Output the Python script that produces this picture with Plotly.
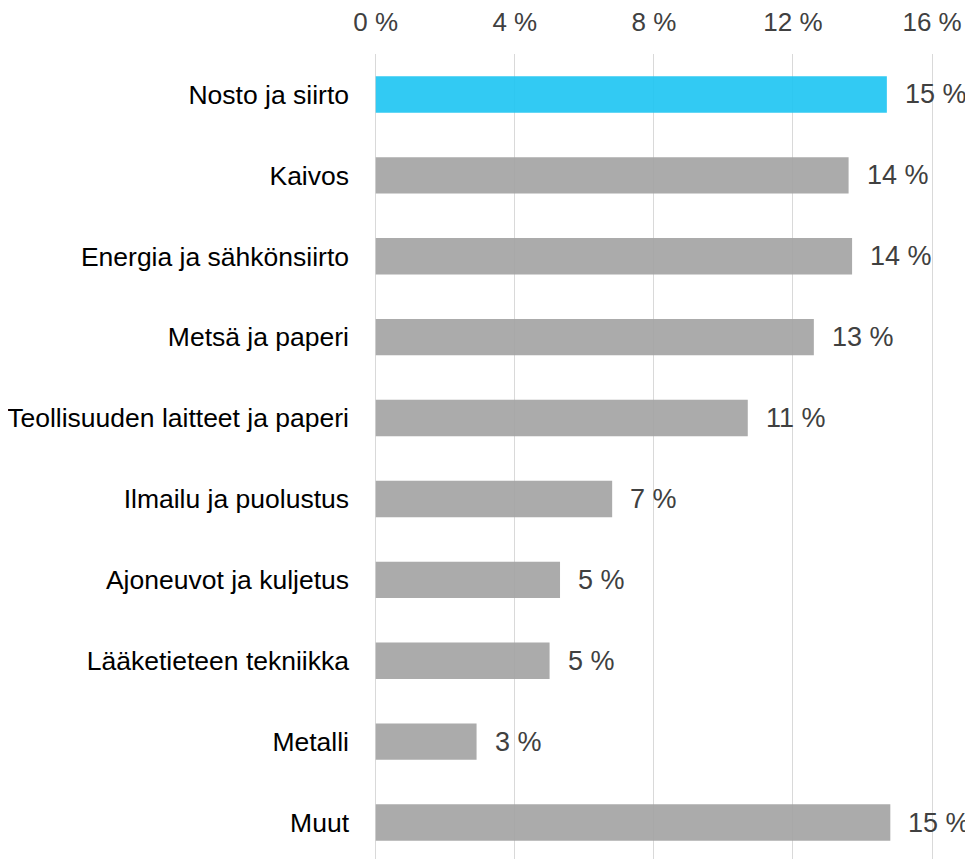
import plotly.graph_objects as go

categories = [
    "Nosto ja siirto",
    "Kaivos",
    "Energia ja sähkönsiirto",
    "Metsä ja paperi",
    "Teollisuuden laitteet ja paperi",
    "Ilmailu ja puolustus",
    "Ajoneuvot ja kuljetus",
    "Lääketieteen tekniikka",
    "Metalli",
    "Muut",
]
values = [14.7, 13.6, 13.7, 12.6, 10.7, 6.8, 5.3, 5.0, 2.9, 14.8]
value_labels = ["15 %", "14 %", "14 %", "13 %", "11 %", "7 %", "5 %", "5 %", "3 %", "15 %"]
tick_vals = [0, 4, 8, 12, 16]
tick_text = ["0 %", "4 %", "8 %", "12 %", "16 %"]

# a touch of transparency so the grid shows faintly through the bars
colors = ["#21C6F2"] + ["#A4A4A4"] * (len(categories) - 1)
font_family = "Liberation Sans, Arial, sans-serif"

fig = go.Figure()
fig.add_trace(go.Bar(
    x=values,
    y=categories,
    orientation="h",
    width=0.45,
    marker=dict(color=colors, line=dict(width=0)),
    opacity=0.92,
    hoverinfo="skip",
))

for cat, val, lab in zip(categories, values, value_labels):
    fig.add_annotation(
        x=val, y=cat, text=lab, showarrow=False,
        xanchor="left", xshift=16,
        font=dict(family=font_family, size=27, color="#404040"),
    )

fig.update_xaxes(
    side="top",
    range=[-0.05, 16.2],
    tickvals=tick_vals,
    ticktext=tick_text,
    showgrid=True,
    gridcolor="#D9D9D9",
    gridwidth=1,
    zeroline=True,
    zerolinecolor="#D9D9D9",
    zerolinewidth=1,
    showline=False,
    ticks="",
    ticklabelstandoff=17,
    automargin=False,
    tickfont=dict(family=font_family, size=26, color="#404040"),
)
fig.update_yaxes(
    autorange="reversed",
    showgrid=False,
    zeroline=False,
    showline=False,
    ticks="",
    ticklabelstandoff=24,
    automargin=False,
    tickfont=dict(family=font_family, size=26.5, color="#000000"),
)

# the page body adds an 8px offset; the last row runs slightly past the window
fig.update_layout(
    width=965,
    height=855,
    margin=dict(l=366, r=34, t=46, b=0),
    plot_bgcolor="white",
    paper_bgcolor="white",
    showlegend=False,
)

fig.write_html("out.html")
